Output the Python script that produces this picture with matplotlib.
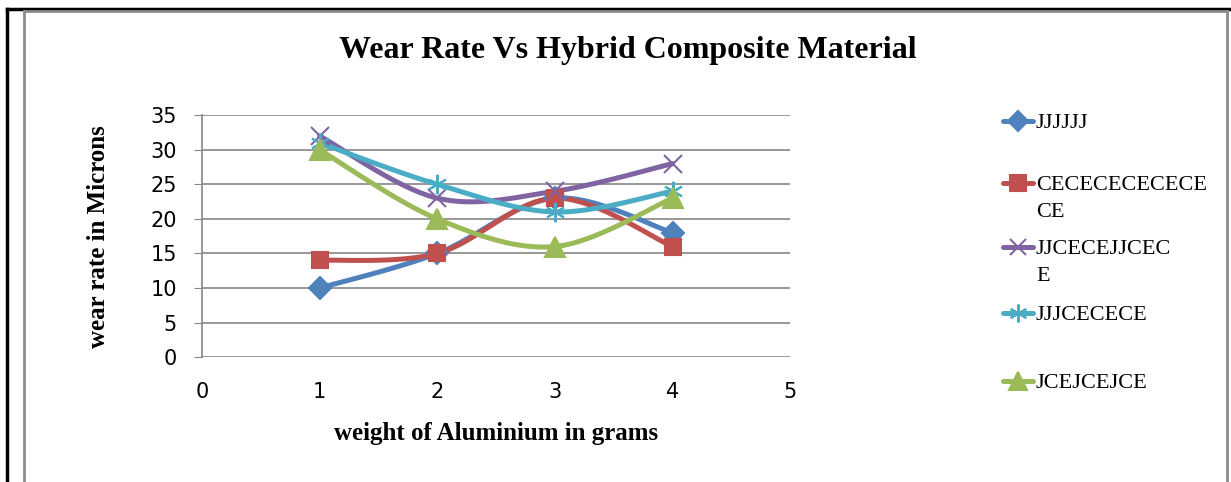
import numpy as np
import matplotlib
matplotlib.use("Agg")
import matplotlib.pyplot as plt
from matplotlib.lines import Line2D

weights = [1, 2, 3, 4]
series_names = ["JJJJJJ", "CECECECECECE\nCE", "JJCECEJJCEC\nE", "JJJCECECE", "JCEJCEJCE"]
jjjjjj = [10, 15, 23, 18]
cecece = [14, 15, 23, 16]
jjcece = [32, 23, 24, 28]
jjjcece = [31, 25, 21, 24]
jcejce = [30, 20, 16, 23]

colors = ["#4F81BD", "#C0504D", "#8064A2", "#4BACC6", "#9BBB59"]
markers = ["D", "s", "x", (6, 2, 0), "^"]
msizes = [11, 12, 13, 14, 14]


def smooth(x, y, n=40):
    # catmull-rom like Excel's smoothed line
    x = np.asarray(x, float)
    y = np.asarray(y, float)
    px = np.concatenate([[x[0]], x, [x[-1]]])
    py = np.concatenate([[y[0]], y, [y[-1]]])
    xs, ys = [], []
    for i in range(1, len(px) - 2):
        t = np.linspace(0, 1, n)
        for p, out in ((px, xs), (py, ys)):
            p0, p1, p2, p3 = p[i - 1], p[i], p[i + 1], p[i + 2]
            out.extend(0.5 * (2 * p1 + (-p0 + p2) * t
                              + (2 * p0 - 5 * p1 + 4 * p2 - p3) * t ** 2
                              + (-p0 + 3 * p1 - 3 * p2 + p3) * t ** 3))
    return xs, ys


fig = plt.figure(figsize=(12.31, 4.82), dpi=100)
ax = fig.add_axes([0.164, 0.259, 0.478, 0.502])

all_data = [jjjjjj, cecece, jjcece, jjjcece, jcejce]
for vals, c, m, ms in zip(all_data, colors, markers, msizes):
    sx, sy = smooth(weights, vals)
    ax.plot(sx, sy, color=c, lw=3.6, solid_capstyle="round", zorder=3)
    ax.plot(weights, vals, ls="none", marker=m, color=c, ms=ms, mew=1.5, zorder=4)

ax.set_xlim(0, 5)
ax.set_ylim(0, 35)
ax.set_yticks(range(0, 36, 5))
ax.set_xticks(range(0, 6))
ax.grid(axis="y", color="#868686", lw=1.2)
ax.set_axisbelow(True)
for s in ["top", "right", "bottom"]:
    ax.spines[s].set_visible(False)
ax.spines["left"].set_color("#868686")
ax.spines["left"].set_linewidth(1.2)
ax.tick_params(axis="y", length=6, color="#868686", labelsize=15, pad=12)
ax.tick_params(axis="x", length=0, labelsize=15, pad=18)
for lab in ax.get_xticklabels() + ax.get_yticklabels():
    lab.set_family("Liberation Sans Narrow")

ax.set_xlabel("weight of Aluminium in grams", family="Liberation Serif",
              fontweight="bold", fontsize=18, labelpad=14)
ax.set_ylabel("wear rate in Microns", family="Liberation Serif",
              fontweight="bold", fontsize=18, labelpad=29)
fig.text(0.51, 0.895, "Wear Rate Vs Hybrid Composite Material", ha="center",
         va="center", family="Liberation Serif", fontweight="bold", fontsize=23)

# legend, placed like Excel's
leg_y = [121, 183, 247, 313, 381]
for name, c, m, ms, y in zip(series_names, colors, markers, msizes, leg_y):
    yf = 1 - y / 482
    fig.add_artist(Line2D([1003 / 1231, 1033 / 1231], [yf, yf], color=c, lw=3.6,
                          solid_capstyle="round"))
    fig.add_artist(Line2D([1018 / 1231], [yf], marker=m, color=c, ms=ms - 1, mew=1.5))
    fig.text(1036 / 1231, yf + 7 / 482, name, ha="left", va="top", fontsize=16,
             family="Liberation Serif", linespacing=1.6)

# frame lines
fig.add_artist(Line2D([7 / 1231, 7 / 1231], [0, 1 - 9 / 482], color="black", lw=2.5))
fig.add_artist(Line2D([7 / 1231, 1], [1 - 9 / 482, 1 - 9 / 482], color="black", lw=2.5))
fig.add_artist(Line2D([24 / 1231, 24 / 1231], [0, 1 - 11 / 482], color="#8c8c8c", lw=2))
fig.add_artist(Line2D([24 / 1231, 1227 / 1231], [1 - 11 / 482, 1 - 11 / 482], color="#8c8c8c", lw=2))
fig.add_artist(Line2D([1227 / 1231, 1227 / 1231], [0, 1 - 11 / 482], color="#8c8c8c", lw=2))

fig.savefig("out.png", dpi=100)
